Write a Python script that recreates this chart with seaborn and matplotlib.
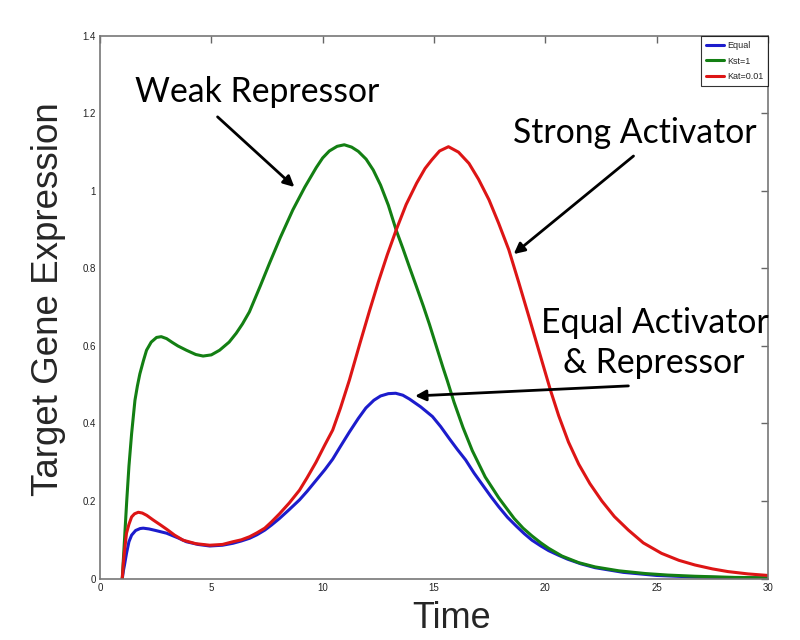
import numpy as np
import pandas as pd
import matplotlib
matplotlib.use("Agg")
import matplotlib.pyplot as plt
import seaborn as sns

# ---- data ----
equal_x = [1.0, 1.05, 1.1, 1.19, 1.3, 1.42, 1.6, 1.8, 1.94, 2.2, 2.5, 2.99, 3.5, 3.88, 4.4, 4.93,
           5.5, 5.97, 6.35, 6.72, 7.05, 7.4, 7.7, 8.06, 8.5, 8.96, 9.3, 9.7, 10.1, 10.45, 10.8,
           11.2, 11.6, 11.94, 12.3, 12.6, 12.95, 13.28, 13.6, 13.9, 14.4, 14.93, 15.3, 15.7,
           16.05, 16.42, 16.8, 17.2, 17.55, 17.91, 18.3, 18.7, 19.05, 19.4, 19.8, 20.15, 20.6,
           21.0, 21.6, 22.24, 23.5, 25.0, 26.7, 28.5, 30.0]
equal_y = [0.0, 0.02, 0.035, 0.065, 0.095, 0.112, 0.124, 0.129, 0.13, 0.128, 0.124, 0.117, 0.105,
           0.095, 0.088, 0.084, 0.086, 0.091, 0.097, 0.104, 0.113, 0.125, 0.138, 0.155, 0.178,
           0.203, 0.225, 0.253, 0.281, 0.308, 0.341, 0.378, 0.413, 0.44, 0.46, 0.471, 0.477,
           0.478, 0.473, 0.463, 0.443, 0.418, 0.392, 0.36, 0.333, 0.306, 0.272, 0.24, 0.212,
           0.185, 0.158, 0.135, 0.116, 0.099, 0.084, 0.072, 0.06, 0.05, 0.038, 0.028, 0.016,
           0.008, 0.004, 0.002, 0.001]

kst_x = [1.0, 1.05, 1.1, 1.15, 1.2, 1.3, 1.42, 1.5, 1.57, 1.68, 1.79, 1.95, 2.09, 2.3, 2.54,
         2.75, 2.99, 3.25, 3.5, 3.88, 4.3, 4.63, 5.0, 5.37, 5.8, 6.12, 6.4, 6.71, 7.2, 7.61, 8.1,
         8.66, 9.2, 9.71, 10.0, 10.3, 10.65, 10.97, 11.3, 11.6, 11.95, 12.27, 12.6, 12.95, 13.3,
         13.6, 13.9, 14.2, 14.52, 14.8, 15.1, 15.4, 15.6, 15.9, 16.3, 16.72, 17.3, 17.91, 18.3,
         18.6, 19.0, 19.4, 19.8, 20.15, 20.75, 21.5, 22.24, 23.3, 24.48, 25.5, 26.7, 28.5, 30.0]
kst_y = [0.0, 0.05, 0.1, 0.15, 0.2, 0.29, 0.374, 0.42, 0.46, 0.497, 0.528, 0.562, 0.589, 0.61,
         0.622, 0.624, 0.619, 0.609, 0.6, 0.589, 0.578, 0.574, 0.577, 0.589, 0.61, 0.633, 0.657,
         0.688, 0.755, 0.813, 0.88, 0.951, 1.01, 1.06, 1.085, 1.103, 1.115, 1.119, 1.113, 1.102,
         1.082, 1.054, 1.015, 0.963, 0.899, 0.852, 0.803, 0.755, 0.703, 0.655, 0.6, 0.545, 0.51,
         0.455, 0.39, 0.33, 0.262, 0.208, 0.178, 0.155, 0.13, 0.11, 0.092, 0.078, 0.058, 0.041,
         0.03, 0.02, 0.013, 0.009, 0.006, 0.003, 0.002]

kat_x = [1.0, 1.05, 1.1, 1.19, 1.3, 1.42, 1.55, 1.72, 1.9, 2.1, 2.39, 2.7, 3.0, 3.35, 3.73, 4.3,
         4.93, 5.5, 5.97, 6.35, 6.72, 7.05, 7.4, 7.7, 8.06, 8.5, 8.96, 9.3, 9.7, 10.1, 10.45,
         10.8, 11.2, 11.67, 12.1, 12.5, 12.9, 13.3, 13.75, 14.22, 14.6, 14.9, 15.25, 15.65, 16.1,
         16.57, 17.0, 17.47, 17.9, 18.36, 18.8, 19.26, 19.75, 20.23, 20.6, 21.04, 21.5, 22.0,
         22.54, 23.1, 23.73, 24.4, 25.22, 26.0, 26.72, 27.5, 28.2, 29.1, 30.0]
kat_y = [0.0, 0.04, 0.07, 0.117, 0.14, 0.159, 0.167, 0.171, 0.169, 0.163, 0.151, 0.139, 0.127,
         0.112, 0.099, 0.09, 0.086, 0.088, 0.095, 0.1, 0.108, 0.118, 0.13, 0.146, 0.167, 0.195,
         0.228, 0.26, 0.3, 0.345, 0.383, 0.44, 0.512, 0.606, 0.69, 0.765, 0.835, 0.899, 0.965,
         1.02, 1.058, 1.08, 1.103, 1.114, 1.1, 1.071, 1.03, 0.977, 0.917, 0.848, 0.765, 0.676,
         0.58, 0.486, 0.42, 0.352, 0.295, 0.245, 0.2, 0.16, 0.125, 0.092, 0.065, 0.047, 0.035,
         0.025, 0.018, 0.012, 0.008]

series_names = ["Equal", "Kst=1", "Kat=0.01"]
series_colors = ["#1c1ccc", "#137f13", "#dd1515"]
x_ticks = [0, 5, 10, 15, 20, 25, 30]
y_ticks = [0, 0.2, 0.4, 0.6, 0.8, 1.0, 1.2, 1.4]
y_tick_labels = ["0", "0.2", "0.4", "0.6", "0.8", "1", "1.2", "1.4"]

df = pd.concat([
    pd.DataFrame({"Time": equal_x, "Expr": equal_y, "Series": series_names[0]}),
    pd.DataFrame({"Time": kst_x, "Expr": kst_y, "Series": series_names[1]}),
    pd.DataFrame({"Time": kat_x, "Expr": kat_y, "Series": series_names[2]}),
], ignore_index=True)

sns.set_style("white")
plt.rcParams["font.family"] = ["Liberation Sans", "DejaVu Sans"]

fig = plt.figure(figsize=(8, 6.4), dpi=100)
ax = fig.add_axes([0.125, 0.096, 0.835, 0.848])

sns.lineplot(data=df, x="Time", y="Expr", hue="Series", hue_order=series_names,
             palette=series_colors, linewidth=2.2, ax=ax, estimator=None)

ax.set_xlim(0, 30)
ax.set_ylim(0, 1.4)
ax.set_xticks(x_ticks)
ax.set_yticks(y_ticks)
ax.set_yticklabels(y_tick_labels)
ax.tick_params(direction="in", length=5, width=1, colors="#666666", labelcolor="#222222",
               labelsize=7, top=True, right=True, pad=3)
for s in ax.spines.values():
    s.set_color("#777777")
    s.set_linewidth(1.2)

ax.set_xlabel("Time", fontsize=26, labelpad=6, x=0.527)
ax.set_ylabel("Target Gene Expression", fontsize=26.5, labelpad=12, y=0.515)

leg = ax.legend(loc="upper right", fontsize=6.5, frameon=True, fancybox=False,
                edgecolor="black", borderaxespad=0.0, handlelength=2.0,
                handletextpad=0.3, labelspacing=0.75, borderpad=0.55)
leg.get_frame().set_linewidth(0.8)
leg.set_title(None)

ann_font = dict(family=["Lato", "DejaVu Sans"], fontsize=24.3, color="black")
arrow = dict(arrowstyle="-|>", color="black", lw=2, mutation_scale=16, shrinkA=0, shrinkB=0)

ax.text(7.05, 1.23, "Weak Repressor", ha="center", va="baseline", **ann_font)
ax.annotate("", xy=(8.73, 1.01), xytext=(5.28, 1.191), arrowprops=arrow)

ax.text(24.0, 1.124, "Strong Activator", ha="center", va="baseline", **ann_font)
ax.annotate("", xy=(18.58, 0.837), xytext=(23.96, 1.09), arrowprops=arrow)

ax.text(24.9, 0.634, "Equal Activator", ha="center", va="baseline", clip_on=False, **ann_font)
ax.text(24.85, 0.53, "& Repressor", ha="center", va="baseline", clip_on=False, **ann_font)
ax.annotate("", xy=(14.15, 0.471), xytext=(23.73, 0.497), arrowprops=arrow)

fig.savefig("out.png", dpi=100)
